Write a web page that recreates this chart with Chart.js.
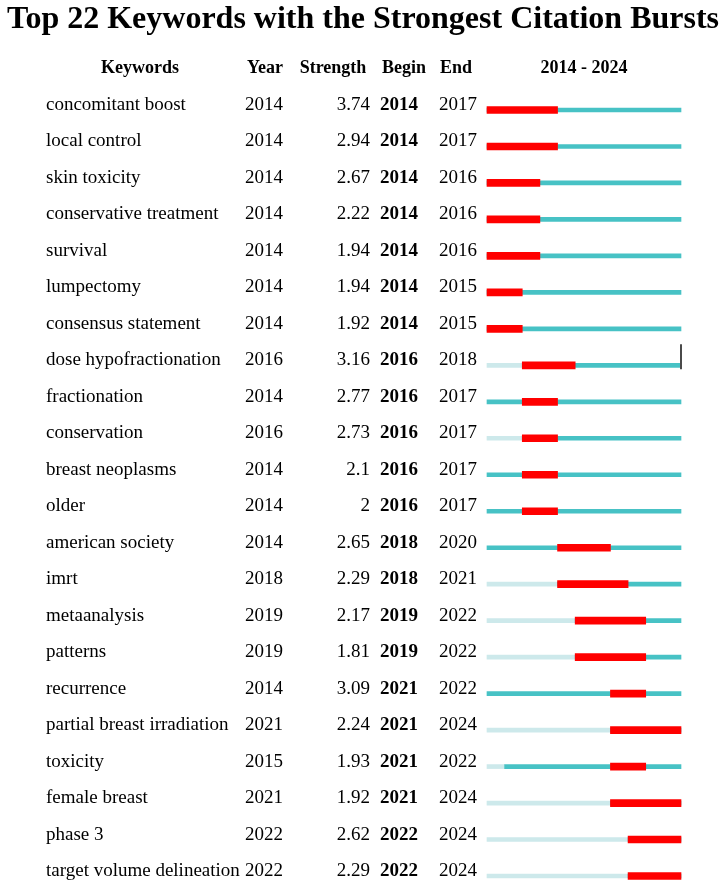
<!DOCTYPE html>
<html>
<head>
<meta charset="utf-8">
<script src="https://cdn.jsdelivr.net/npm/chart.js@4.4.1/dist/chart.umd.min.js"></script>
<style>
  html, body { margin: 0; padding: 0; background: #fff; }
  #wrap { width: 726px; height: 882px; position: relative; }
</style>
</head>
<body>
<div id="wrap"><canvas id="burstChart"></canvas></div>
<script>
const keywords = [
    'concomitant boost', 'local control', 'skin toxicity', 'conservative treatment',
    'survival', 'lumpectomy', 'consensus statement', 'dose hypofractionation',
    'fractionation', 'conservation', 'breast neoplasms', 'older',
    'american society', 'imrt', 'metaanalysis', 'patterns',
    'recurrence', 'partial breast irradiation', 'toxicity', 'female breast',
    'phase 3', 'target volume delineation'
];
const years = [2014, 2014, 2014, 2014, 2014, 2014, 2014, 2016, 2014, 2016, 2014,
    2014, 2014, 2018, 2019, 2019, 2014, 2021, 2015, 2021, 2022, 2022];
const strengths = ['3.74', '2.94', '2.67', '2.22', '1.94', '1.94', '1.92', '3.16',
    '2.77', '2.73', '2.1', '2', '2.65', '2.29', '2.17', '1.81', '3.09', '2.24',
    '1.93', '1.92', '2.62', '2.29'];
const begins = [2014, 2014, 2014, 2014, 2014, 2014, 2014, 2016, 2016, 2016, 2016,
    2016, 2018, 2018, 2019, 2019, 2021, 2021, 2021, 2021, 2022, 2022];
const ends = [2017, 2017, 2016, 2016, 2016, 2015, 2015, 2018, 2017, 2017, 2017,
    2017, 2020, 2021, 2022, 2022, 2022, 2024, 2022, 2024, 2024, 2024];
const firstYear = 2014;
const lastYear = 2024;

document.addEventListener("DOMContentLoaded", function () {
    const serif = '"Liberation Serif", "Times New Roman", serif';

    // light segment before the keyword first appears, teal after, red = burst
    const lightData = years.map(y => y > firstYear ? [firstYear, y] : null);
    const tealData = years.map(y => [y, lastYear + 1]);
    const redData = begins.map((b, i) => [b, ends[i] + 1]);

    const tablePlugin = {
        id: 'burstTable',
        afterDatasetsDraw(chart) {
            const ctx = chart.ctx;
            const ys = chart.scales.y;
            const xs = chart.scales.x;
            ctx.save();
            ctx.fillStyle = '#000';
            ctx.textBaseline = 'alphabetic';

            // title
            ctx.font = 'bold 32px ' + serif;
            ctx.textAlign = 'center';
            ctx.fillText('Top 22 Keywords with the Strongest Citation Bursts', 363, 28);

            // header
            ctx.font = 'bold 18px ' + serif;
            ctx.fillText('Keywords', 140, 73);
            ctx.fillText('Year', 265, 73);
            ctx.fillText('Strength', 333, 73);
            ctx.fillText('Begin', 404, 73);
            ctx.fillText('End', 456, 73);
            ctx.fillText(firstYear + ' - ' + lastYear, 584, 73);

            keywords.forEach((kw, i) => {
                const y = ys.getPixelForValue(i);
                ctx.font = '19px ' + serif;
                ctx.textAlign = 'left';
                ctx.fillText(kw, 46, y);
                ctx.fillText(String(years[i]), 245, y);
                ctx.fillText(String(ends[i]), 439, y);
                ctx.textAlign = 'right';
                ctx.fillText(strengths[i], 370, y);
                ctx.font = 'bold 19px ' + serif;
                ctx.textAlign = 'left';
                ctx.fillText(String(begins[i]), 380, y);
            });

            // stray marker at the end of the dose hypofractionation row
            const rowY = ys.getPixelForValue(7);
            ctx.strokeStyle = '#4a4a4a';
            ctx.lineWidth = 2;
            ctx.beginPath();
            ctx.moveTo(xs.getPixelForValue(lastYear + 1), rowY - 21);
            ctx.lineTo(xs.getPixelForValue(lastYear + 1), rowY + 4);
            ctx.stroke();
            ctx.restore();
        }
    };

    const ctx = document.getElementById("burstChart");
    new Chart(ctx, {
        type: 'bar',
        data: {
            labels: keywords,
            datasets: [
                {
                    label: 'burst',
                    data: redData,
                    backgroundColor: '#ff0000',
                    barThickness: 7,
                    grouped: false,
                    clip: false,
                    order: 0
                },
                {
                    label: 'active',
                    data: tealData,
                    backgroundColor: '#47c2c5',
                    barThickness: 4,
                    grouped: false,
                    clip: false,
                    order: 1
                },
                {
                    label: 'before',
                    data: lightData,
                    backgroundColor: '#cde9eb',
                    barThickness: 4,
                    grouped: false,
                    clip: false,
                    order: 2
                }
            ]
        },
        options: {
            indexAxis: 'y',
            responsive: true,
            maintainAspectRatio: false,
            animation: false,
            layout: {
                padding: { left: 487, right: 45, top: 110, bottom: 6 }
            },
            scales: {
                x: {
                    type: 'linear',
                    min: firstYear,
                    max: lastYear + 1,
                    display: false
                },
                y: {
                    type: 'category',
                    offset: false,
                    display: false
                }
            },
            plugins: {
                legend: { display: false },
                tooltip: { enabled: false },
                title: { display: false }
            }
        },
        plugins: [tablePlugin]
    });
});
</script>
</body>
</html>
